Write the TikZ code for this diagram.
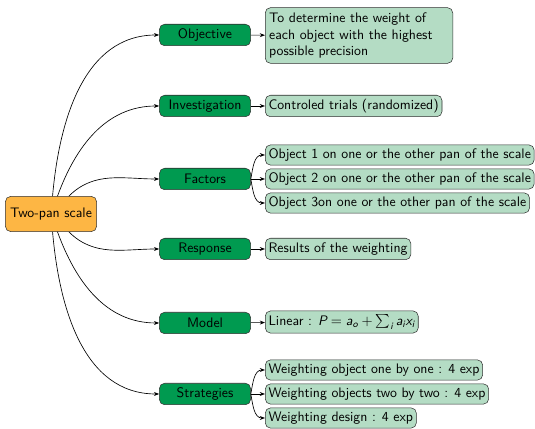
\documentclass[tikz,border=0pt]{standalone}
\usepackage{amsmath,amssymb}
\usetikzlibrary{positioning, arrows.meta}
\definecolor{rootOrange}{HTML}{FDB644}
\definecolor{branchGreen}{HTML}{009A50}
\definecolor{leafGreen}{HTML}{B4DCC4}
\definecolor{inkEdge}{HTML}{303030}
\newcommand{\sv}[1]{\text{\itshape #1}}

\begin{document}
\begin{tikzpicture}[
  x=0.768pt, y=0.768pt,
  font=\sffamily\fontsize{10.6}{12.6}\selectfont,
  root/.style={rectangle, rounded corners=4pt, draw=inkEdge, fill=rootOrange,
    minimum width=70pt, minimum height=27pt, inner sep=2pt},
  branch/.style={rectangle, rounded corners=4pt, draw=inkEdge, fill=branchGreen,
    minimum width=70pt, minimum height=16.5pt, inner sep=2pt},
  leaf/.style={rectangle, rounded corners=4pt, draw=inkEdge, fill=leafGreen,
    anchor=west, inner sep=2.5pt, minimum height=15.5pt},
  link/.style={->, line width=0.5pt},
  >={Stealth[length=4pt,width=3pt]}
]
  %% --- cornice (unita': pixel del riferimento) ---
  \useasboundingbox (0,0) rectangle (535,429);

  %% --- radice ---
  \node[root] (root) at (51,215) {Two-pan scale};

  %% --- rami ---
  \foreach \id/\txt/\yy in {obj/Objective/394, inv/Investigation/323,
      fac/Factors/250, resp/Response/180, mod/Model/106, strat/Strategies/35} {
    \node[branch] (\id) at (205,\yy) {\txt};
  }
  \foreach \id/\ang in {obj/85, inv/70, fac/45, resp/-45, mod/-70, strat/-85} {
    \draw[link] (root) to[out=\ang, in=180] (\id);
  }

  %% --- foglie ---
  \node[leaf, align=left, text width=138pt, inner sep=3pt, inner ysep=4pt] (objA) at (265,393.5)
    {To determine the weight of\\ each object with the highest\\ possible precision};
  \node[leaf, minimum height=16.5pt] (invA) at (265,323) {Controled trials (randomized)};
  \node[leaf] (facA) at (265,274) {Object 1 on one or the other pan of the scale};
  \node[leaf] (facB) at (265,250) {Object 2 on one or the other pan of the scale};
  \node[leaf] (facC) at (265,226) {Object 3on one or the other pan of the scale};
  \node[leaf, minimum height=16.5pt] (respA) at (265,180) {Results of the weighting};
  \node[leaf, minimum height=17pt] (modA) at (265,107)
    {Linear : $\sv{P} = \sv{a}_{\sv{o}} + \sum_{\sv{i}} \sv{a}_{\sv{i}}\sv{x}_{\sv{i}}$};
  \node[leaf] (stratA) at (265,59) {Weighting object one by one : 4 exp};
  \node[leaf] (stratB) at (265,35) {Weighting objects two by two : 4 exp};
  \node[leaf] (stratC) at (265,11) {Weighting design : 4 exp};

  %% --- collegamenti rami -> foglie ---
  \foreach \a/\b in {obj/objA, inv/invA, fac/facB, resp/respA, mod/modA, strat/stratB} {
    \draw[link] (\a) -- (\b);
  }
  \draw[link] (fac.east) to[out=80, in=180] (facA.west);
  \draw[link] (fac.east) to[out=-80, in=180] (facC.west);
  \draw[link] (strat.east) to[out=80, in=180] (stratA.west);
  \draw[link] (strat.east) to[out=-80, in=180] (stratC.west);
\end{tikzpicture}
\end{document}
